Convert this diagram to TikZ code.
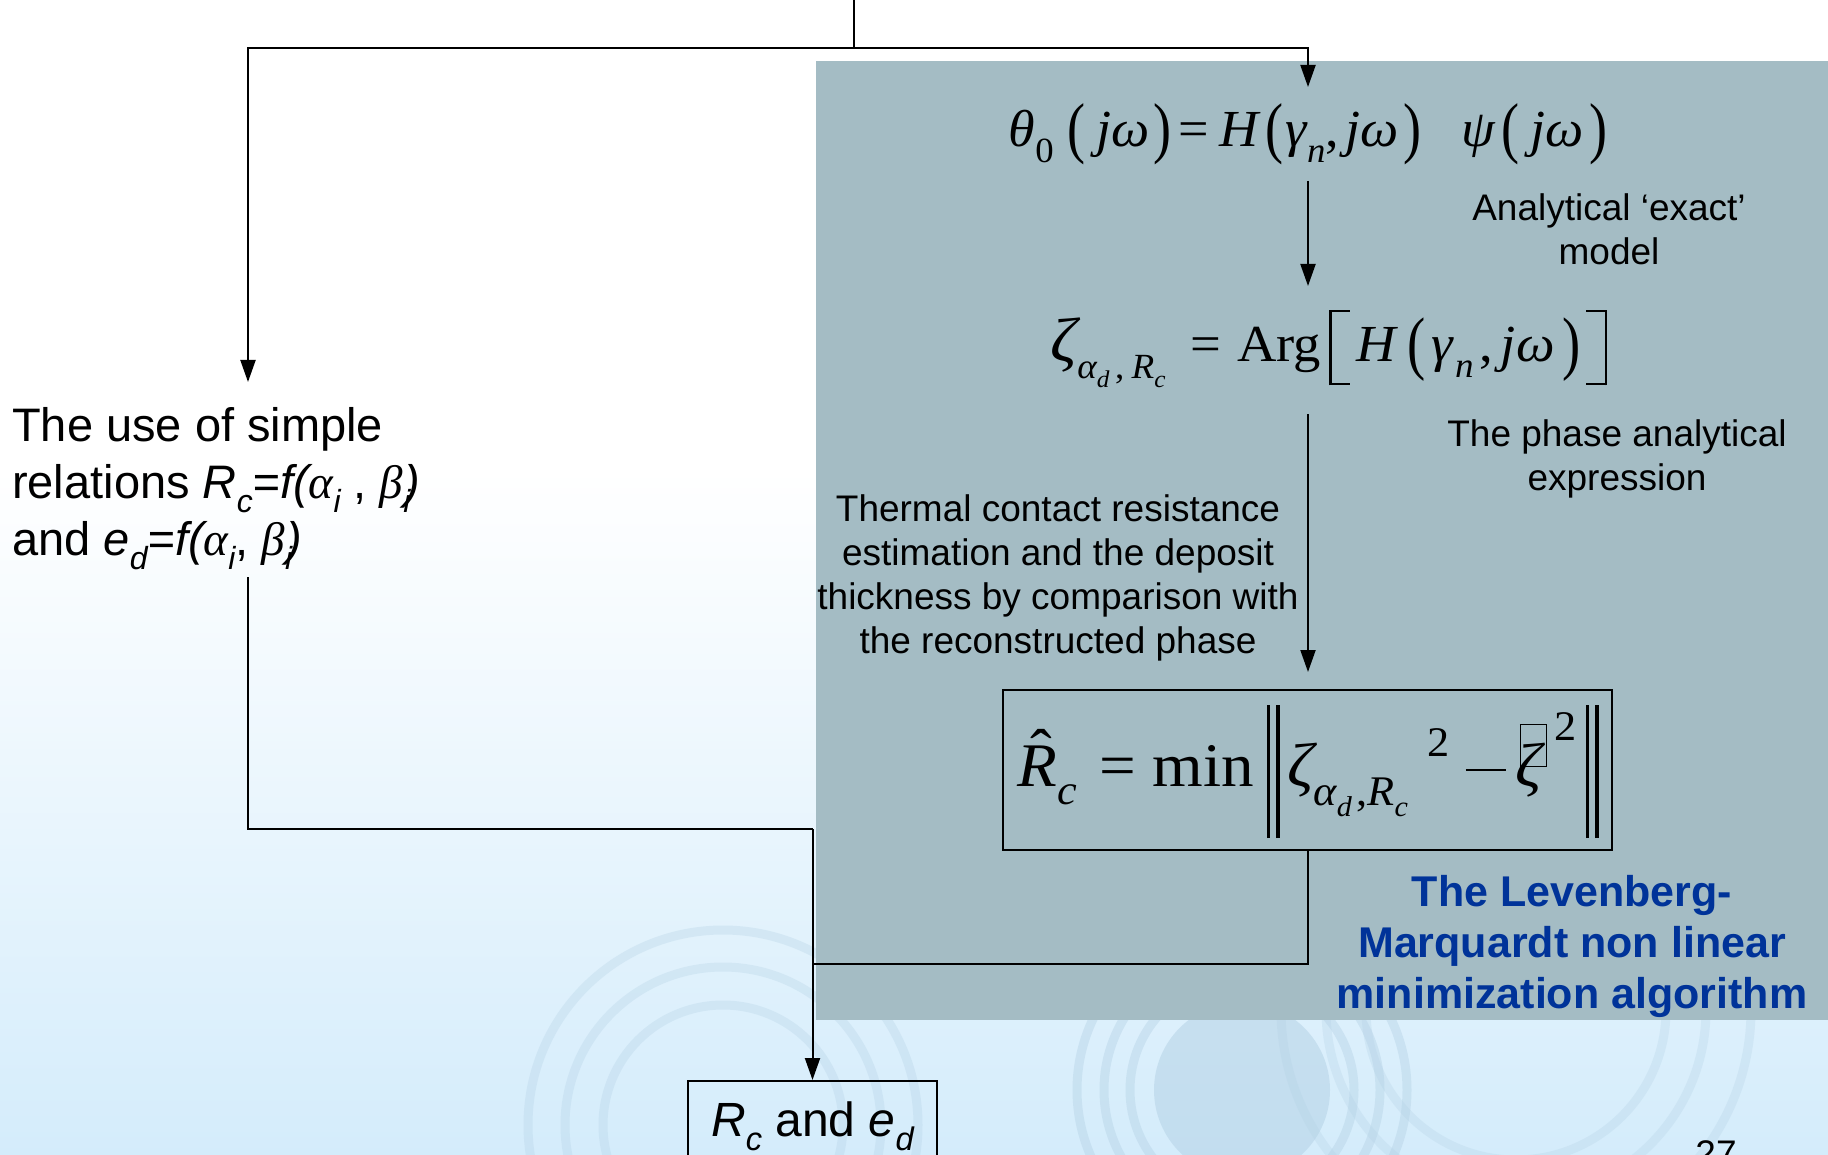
\documentclass[tikz,border=0pt]{standalone}
\usepackage{fontspec}
\usepackage{graphicx}
\setmainfont{Liberation Sans}
\newfontfamily\tms{Liberation Serif}
\usetikzlibrary{arrows.meta}
\definecolor{panel}{RGB}{164,188,196}
\definecolor{bgb}{RGB}{212,236,251}
\definecolor{ringc}{RGB}{178,208,228}
\definecolor{lmblue}{RGB}{0,51,153}
\newcommand\lo[2][0.3em]{\raisebox{-#1}{\scalebox{0.68}{#2}}}
\newcommand\hi[2][0.55em]{\raisebox{#1}{\scalebox{0.68}{#2}}}
\newcommand\stp[3]{\raisebox{-#2}{\scalebox{1}[#1]{#3}}}
\newcommand\nrmbars{\rule[-0.84em]{3pt}{2.15em}\hspace{6pt}\rule[-0.84em]{3pt}{2.15em}}
\newcommand\boxz{\rlap{\hspace{0.06em}\raisebox{0.32em}{\fboxsep=0pt\fboxrule=1.2pt\fbox{\rule{0pt}{0.66em}\hspace{0.38em}}}}{\itshape ζ}}
\newcommand\lbrk{\rule[-0.45em]{2.2pt}{1.45em}\hspace{-2.2pt}\makebox[0.38em][l]{\rule[-0.45em]{0.38em}{2pt}}\hspace{-0.38em}\makebox[0.38em][l]{\rule[\dimexpr1em-2pt]{0.38em}{2pt}}}
\newcommand\rbrk{\makebox[0.38em][l]{\rule[-0.45em]{0.38em}{2pt}}\hspace{-0.38em}\makebox[0.38em][l]{\rule[\dimexpr1em-2pt]{0.38em}{2pt}}\hspace{-2.2pt}\rule[-0.45em]{2.2pt}{1.45em}}
\newcommand\mns{\rule[0.24em]{0.62em}{2.6pt}}
\begin{document}
\begin{tikzpicture}[x=1pt,y=-1pt,
  conn/.style={line width=2pt,black},
  arr/.style={conn,-{Triangle[length=22pt,width=15pt]}},
  eqA/.style={font=\tms\fontsize{52}{60}\selectfont,inner sep=0pt,anchor=base},
  eqB/.style={font=\tms\fontsize{62}{70}\selectfont,inner sep=0pt,anchor=base},
  txt/.style={font=\fontsize{37}{44}\selectfont,align=center,inner sep=0pt,anchor=north},
  bigtxt/.style={font=\fontsize{47}{57}\selectfont,align=left,inner sep=0pt},
  lmtxt/.style={font=\bfseries\fontsize{43}{51}\selectfont,text=lmblue,align=center,inner sep=0pt,anchor=north},
  rings/.style={draw=ringc,line width=9pt,opacity=0.4}
]
% background
\fill[white] (0,0) rectangle (1828,1155);
\shade[top color=white,bottom color=bgb] (0,470) rectangle (1828,1155);
\useasboundingbox (0,0) rectangle (1828,1155);
% ripples
\fill[ringc,opacity=0.5] (1242,1090) circle[radius=88];
\foreach \r in {112,138,165}{\draw[rings] (1242,1090) circle[radius=\r];}
\foreach \r in {150,190,235}{\draw[rings,opacity=0.28] (1516,1010) circle[radius=\r];}
\foreach \r in {120,158,195}{\draw[rings,opacity=0.3] (723,1125) circle[radius=\r];}
% grey panel
\fill[panel] (816,61) rectangle (1828,1020);

% equations
\node[eqA] (eq1) at (1308,147) {\scalebox{1.04}[1]{{\itshape θ}\lo{0}\hspace{0.25em}\stp{1.3}{0.075em}{(}\hspace{0.2em}{\itshape jω}\hspace{0.08em}\stp{1.3}{0.075em}{)}\hspace{0.12em}=\hspace{0.2em}{\itshape H}\hspace{0.12em}\stp{1.3}{0.075em}{(}\hspace{0.05em}{\itshape γ}\lo{\itshape n},\hspace{0.12em}{\itshape jω}\hspace{0.08em}\stp{1.3}{0.075em}{)}\hspace{0.75em}{\itshape ψ}\hspace{0.12em}\stp{1.3}{0.075em}{(}\hspace{0.2em}{\itshape jω}\hspace{0.1em}\stp{1.3}{0.075em}{)}}};

\node[eqA] (eq2) at (1329,362) {\scalebox{1.05}[1]{\scalebox{1.2}{\itshape ζ}\lo[0.32em]{{\itshape α}\lo[0.25em]{\itshape d}\hspace{0.15em},\hspace{0.2em}{\itshape R}\lo[0.25em]{\itshape c}}\hspace{0.45em}=\hspace{0.3em}Arg\hspace{0.15em}\lbrk\hspace{0.12em}{\itshape H}\hspace{0.2em}\stp{1.35}{0.09em}{(}\hspace{0.12em}{\itshape γ}\hspace{0.03em}\lo{\itshape n}\hspace{0.1em},\hspace{0.15em}{\itshape jω}\hspace{0.15em}\stp{1.35}{0.09em}{)}\hspace{0.1em}\rbrk}};

\node[draw,conn,minimum width=609pt,minimum height=160pt,inner sep=0pt] (eq3) at (1307.5,770) {};
\node[eqB] (eq3t) at (1308,786) {\scalebox{1.05}[1]{\rlap{\hspace{0.2em}\raisebox{0.22em}{ˆ}}{\itshape R}\lo{\itshape c}\hspace{0.35em}=\hspace{0.25em}min\hspace{0.2em}\nrmbars\hspace{0.12em}{\itshape ζ}\lo[0.32em]{{\itshape α}\lo[0.25em]{\itshape d}\hspace{0.1em},{\itshape R}\lo[0.25em]{\itshape c}}\hspace{0.3em}\hi[0.47em]{2}\hspace{0.25em}\mns\hspace{0.15em}\boxz\hspace{0.18em}\hi[0.74em]{2}\hspace{0.15em}\nrmbars}};

% texts
\node[txt] (mdl) at (1609,193) {Analytical ‘exact’\\model};
\node[txt] (phs) at (1617,419) {The phase analytical\\expression};
\node[txt] (thr) at (1058,494) {Thermal contact resistance\\estimation and the deposit\\thickness by comparison with\\the reconstructed phase};
\node[lmtxt] (lm) at (1572,875) {The Levenberg-\\Marquardt non linear\\minimization algorithm};
\node[bigtxt,anchor=north west] (use) at (12,407) {The use of simple\\relations {\itshape R\lo{c}=f(}{\tms\itshape α}\lo{\itshape i} , {\tms\itshape β}\lo{\itshape i}\hspace{-0.12em}{\itshape )}\\and {\itshape e\lo{d}=f(}{\tms\itshape α}\lo{\itshape i},\ {\tms\itshape β}\lo{\itshape i}\hspace{-0.12em}{\itshape )}};
\node[draw,conn,minimum width=249pt,minimum height=90pt,anchor=north,inner sep=0pt,font=\fontsize{48}{56}\selectfont] (res) at (812.5,1080) {{\itshape R\lo{c}} and {\itshape e\lo{d}}};
\node[font=\fontsize{37}{44}\selectfont,anchor=base,inner sep=0pt] (pg) at (1716,1166) {27};

% connectors
\coordinate (top) at (854,0);
\coordinate (split) at (854,48);
\coordinate (la) at (248,382);
\coordinate (ra) at (1308,87);
\coordinate (a1s) at (1308,181);
\coordinate (a1e) at (1308,286);
\coordinate (a2s) at (1308,414);
\coordinate (a2e) at (1308,672);
\coordinate (lb) at (248,577);
\coordinate (lj) at (812.5,829);
\coordinate (mj) at (812.5,964);
\draw[arr] (top) -- (split) -| (la);
\draw[arr] (split) -| (ra);
\draw[arr] (a1s) -- (a1e);
\draw[arr] (a2s) -- (a2e);
\draw[conn] (lb) |- (lj);
\draw[conn] (eq3.south) |- (mj);
\draw[arr] (lj) -- (res.north);
\end{tikzpicture}
\end{document}
